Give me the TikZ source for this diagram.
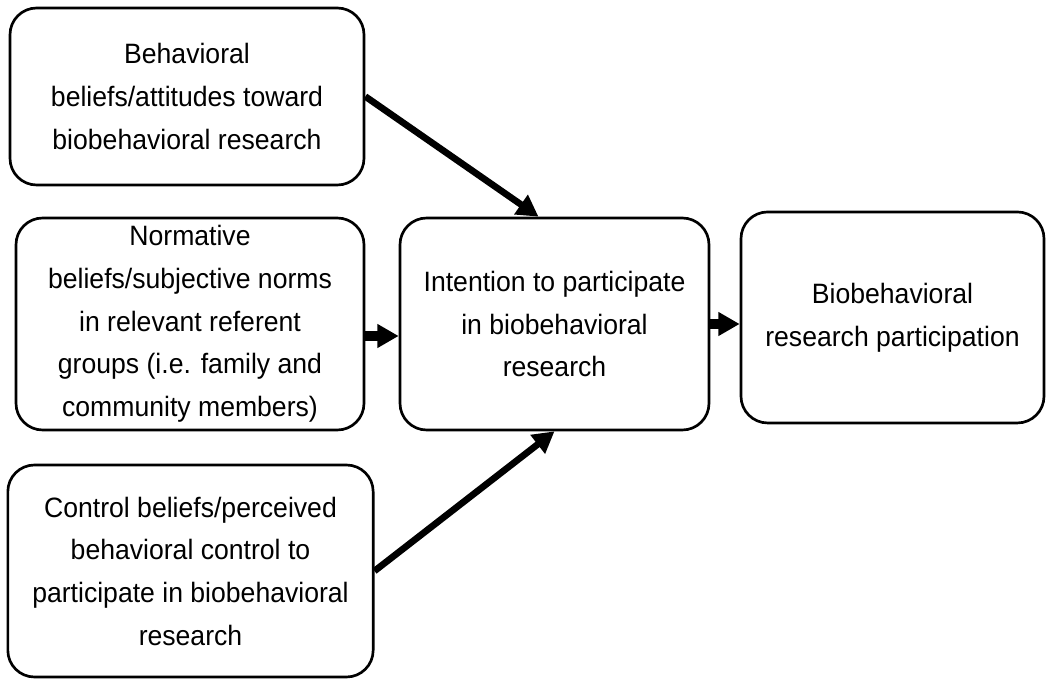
\documentclass[tikz,border=0pt]{standalone}
\usepackage{fontspec}
\setmainfont{Liberation Sans}[FakeStretch=0.95]
\usetikzlibrary{arrows.meta,positioning}

\begin{document}
\begin{tikzpicture}[
		x=0.75pt, y=-0.75pt,
		node distance=25pt,
		arrow/.style={line width=5pt, -{Triangle[length=16pt, width=17pt]}},
		shortarrow/.style={arrow, line width=7pt},
		block/.style={draw, line width=2pt, rounded corners=20pt, align=center, inner sep=2pt,
			font=\fontsize{21pt}{32pt}\selectfont, minimum height=159pt},
	]
	\useasboundingbox (0,0) rectangle (1050,684);

	\node[block, minimum width=265.5pt, minimum height=132.75pt] (attitude) at (187,96.5)
		{Behavioral\\ beliefs/attitudes toward\\ biobehavioral research};
	\node[block, minimum width=261pt] (norms) at (190,324)
		{Normative\\ beliefs/subjective norms\\ in relevant referent\\ groups (i.e. family and\\ community members)};
	\node[block, minimum width=274pt] (control) at (190.5,571)
		{Control beliefs/perceived\\ behavioral control to\\ participate in biobehavioral\\ research};
	\node[block, minimum width=231.75pt, right=25pt of norms] (intention)
		{Intention to participate\\ in biobehavioral\\ research};
	\node[block, minimum width=227.25pt, minimum height=158.25pt, right=22pt of intention, yshift=4.9pt] (participation)
		{Biobehavioral\\ research participation};

	\draw[arrow] (attitude.east) -- ([xshift=-12pt]intention.north);
	\draw[arrow] (control.east) -- (intention.south);
	\draw[shortarrow] ([yshift=-9pt]norms.east) -- ([yshift=-9pt]intention.west);
	\draw[shortarrow] (intention.east) -- (intention.east -| participation.west);
\end{tikzpicture}
\end{document}
